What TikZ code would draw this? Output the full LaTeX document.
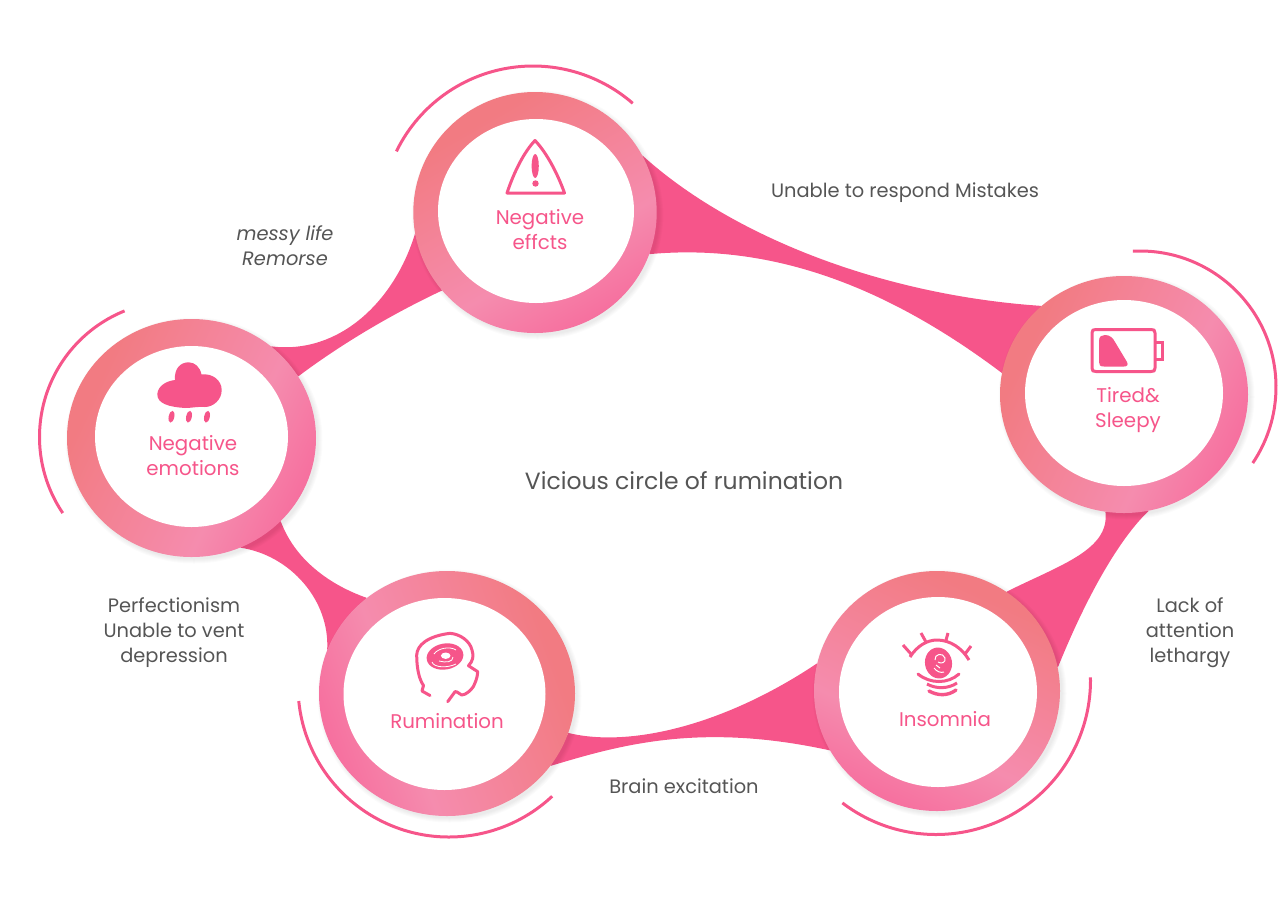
\documentclass[tikz,border=0pt]{standalone}
\usepackage{fontspec}
\setmainfont{Poppins}
\usetikzlibrary{shapes.geometric,backgrounds}
\definecolor{ribbon}{HTML}{F6558A}
\definecolor{salmon}{HTML}{F27B82}
\definecolor{midpink}{HTML}{F58CAE}
\definecolor{deeppink}{HTML}{F6709F}
\definecolor{inkgrey}{HTML}{555555}
\pgfdeclareverticalshading{ringshade}{100bp}{color(0bp)=(deeppink); color(25bp)=(deeppink); color(40bp)=(midpink); color(72bp)=(salmon); color(100bp)=(salmon)}
\tikzset{
  ringbody/.style={ellipse,inner sep=0pt,shade,shading=ringshade},
  ringhole/.style={ellipse,inner sep=0pt,fill=white},
  ribbonfill/.style={fill=ribbon,draw=none},
  halo/.style={draw=ribbon,line width=3pt,line cap=butt},
  iconline/.style={draw=ribbon,line width=3pt,line cap=round,line join=round},
  iconfill/.style={fill=ribbon,draw=none},
  pinktext/.style={text=ribbon,align=center,font=\fontsize{19.8}{25}\selectfont},
  greytext/.style={text=inkgrey,align=center,font=\fontsize{19.4}{25}\selectfont},
}
\newcommand{\ringat}[6]{%
  \foreach \g in {0,1,2,3,4}{\fill[black,opacity=.016] (#2+2.5,#3+2.5) ellipse [x radius=#4+\g,y radius=#5+\g];}
  \node[ringbody,minimum width={2*#4 pt},minimum height={2*#5 pt},shading angle=#6] (#1) at (#2,#3) {};}
\newcommand{\holeat}[5]{\node[ringhole,minimum width={2*#4 pt},minimum height={2*#5 pt}] (#1) at (#2,#3) {};}
\newcommand{\haloarc}[5]{\draw[halo] ([shift={(#4:#3pt)}]#1,#2) arc[start angle=#4,end angle=#5,radius=#3pt];}
\begin{document}
\begin{tikzpicture}[x=1pt,y=-1pt]
\useasboundingbox (0,0) rectangle (1286,898);
% rings
\ringat{effects}{535}{212.5}{121.7}{120.5}{30}
\holeat{effectsin}{536}{211}{98}{92}
\ringat{tired}{1124}{394.5}{124}{118.5}{65}
\holeat{tiredin}{1124}{393}{99}{93}
\ringat{insomnia}{937}{691}{123}{120}{-25}
\holeat{insomniain}{938}{692}{99}{95}
\ringat{rumination}{447}{693.5}{128}{122.5}{-70}
\holeat{ruminationin}{444.5}{694}{101}{96}
\ringat{emotions}{191.5}{438}{124.5}{119}{65}
\holeat{emotionsin}{191.5}{436.5}{96.5}{90.5}
% ribbons
\begin{pgfonlayer}{background}
\fill[ribbonfill] (effects.28.7) .. controls (730,235) and (880,295) .. (tired.133.7) -- (tired.170) .. controls (885,285) and (770,243) .. (effects.-20.8) -- cycle;
\fill[ribbonfill] (tired.261.8) .. controls (1110,550) and (1060,565) .. (insomnia.55.8) -- (insomnia.11) .. controls (1085,600) and (1118,540) .. (tired.282.7) -- cycle;
\fill[ribbonfill] (insomnia.167.7) .. controls (725,725) and (630,748) .. (rumination.-18) -- (rumination.-35.5) .. controls (620,745) and (700,722) .. (insomnia.209) -- cycle;
\fill[ribbonfill] (emotions.-43.8) .. controls (295,560) and (330,585) .. (rumination.130.6) -- (rumination.160) .. controls (330,600) and (290,555) .. (emotions.-66.6) -- cycle;
\fill[ribbonfill] (emotions.49.5) .. controls (340,355) and (395,300) .. (effects.190.8) -- (effects.220.7) .. controls (390,315) and (340,345) .. (emotions.30.6) -- cycle;
\end{pgfonlayer}
% outer arcs
\haloarc{533}{218}{152}{154}{49}
\haloarc{1140}{387}{136}{93}{-34}
\haloarc{936}{680}{154.5}{1}{-127.3}
\haloarc{449}{686}{151}{185.7}{313.1}
\haloarc{175.5}{437}{136}{112}{214}
% warning icon
\draw[iconline] (507,193) .. controls (514,172) and (524,152) .. (535,140.5) .. controls (546,152) and (557,172) .. (564.5,193) -- cycle;
\fill[iconfill] (535.2,166) ellipse [x radius=3.6,y radius=12];
\fill[iconfill] (535.5,183.5) circle [radius=3.2];
% battery icon
\draw[iconline] (1092,333) .. controls (1092,330) and (1093,329.5) .. (1096,329.5) -- (1151,329.5) .. controls (1154,329.5) and (1155,330) .. (1155,333) -- (1155,368) .. controls (1155,371) and (1154,371.5) .. (1151,371.5) -- (1096,371.5) .. controls (1093,371.5) and (1092,371) .. (1092,368) -- cycle;
\draw[draw=ribbon,line width=2.6pt] (1155,342.5) -- (1162.5,342.5) -- (1162.5,359.5) -- (1155,359.5);
\fill[iconfill] (1099,341) .. controls (1099,336) and (1102,335) .. (1105,335) .. controls (1110,335) and (1113,338) .. (1115,342) -- (1127,362) .. controls (1128.5,365) and (1127,366.5) .. (1124,366.5) -- (1104,366.5) .. controls (1100,366.5) and (1099,365) .. (1099,362) -- cycle;
% eye icon
\draw[iconline,line cap=butt] (910,657) .. controls (917,646) and (927,640) .. (937,640) .. controls (950,640) and (962,648) .. (969,660);
\draw[iconline,line cap=butt] (903,645) -- (911,654);
\draw[iconline,line cap=butt] (921,633) -- (926,642);
\draw[iconline,line cap=butt] (948,633) -- (945.5,642);
\draw[iconline,line cap=butt] (971,646) -- (965,654);
\fill[iconfill,rotate around={10:(938.5,663)}] (938.5,663) ellipse [x radius=13.5,y radius=15.5];
\draw[white,line width=1pt] (935,660) .. controls (934,654) and (943,652) .. (945,658) .. controls (946,663) and (941,664) .. (938,662);
\draw[white,line width=1pt] (934,668) .. controls (937,672) and (941,673) .. (944,672);
\draw[white,line width=1pt] (936,665) -- (940,668);
\draw[iconline] (918,674) .. controls (930,684) and (948,684) .. (959,674);
\draw[iconline,line cap=butt] (927,684) .. controls (936,689) and (948,689) .. (957,683);
\draw[iconline,line width=3.4pt] (929,691) .. controls (938,696) and (948,696) .. (956,690);
% head icon
\draw[iconline] (430,695.5) -- (422,691) -- (423.5,685.5) .. controls (419,679) and (416.7,668) .. (416.7,655) .. controls (417,645) and (428,636) .. (450,633.3) .. controls (460,634) and (470,641) .. (472,650) .. controls (474,656) and (473,661) .. (468.5,665.7) -- (477.7,671.7) .. controls (477.5,678) and (475,683) .. (473.3,686.7) .. controls (471,690) and (466,695) .. (461.7,695) .. controls (459,694) and (457,691) .. (455,691.7) -- (447.7,701.7);
\fill[iconfill,rotate around={10:(445,656.5)}] (445,656.5) ellipse [x radius=18.5,y radius=13];
\draw[white,line width=.8pt] (432,662) .. controls (434,668) and (448,668) .. (456,664);
\draw[white,line width=.8pt] (434,654) .. controls (438,648) and (450,646) .. (456,650);
\draw[white,line width=.8pt] (453,657) .. controls (453,662) and (446,663) .. (439,661);
\fill[white] (445.7,655.7) ellipse [x radius=4.8,y radius=3.2];
% cloud icon
\fill[iconfill] (157.3,394) .. controls (158,386) and (166,381) .. (175,380) .. controls (174,368) and (181,362.3) .. (188.5,362.3) .. controls (195,362.3) and (200,367) .. (201.5,374.5) .. controls (212,373) and (221.7,380) .. (221.7,390) .. controls (221.7,400) and (213,407) .. (205,407) .. controls (196,406.5) and (192,408) .. (185,408) .. controls (170,407) and (157,404) .. (157.3,394) -- cycle;
\foreach \dx in {171.5,189,207}{\fill[iconfill,rotate around={-12:(\dx,416.7)}] (\dx,416.7) ellipse [x radius=2.8,y radius=6];}
% node labels
\node[pinktext] (effectslabel) at (540,230) {Negative\\effcts};
\node[pinktext] (tiredlabel) at (1128,410) {Tired\&\\Sleepy};
\node[pinktext] (insomnialabel) at (945,719) {Insomnia};
\node[pinktext] (ruminationlabel) at (447,721) {Rumination};
\node[pinktext] (emotionslabel) at (193,456) {Negative\\emotions};
% connector labels
\node[greytext] (t1) at (905,192.5) {Unable to respond Mistakes};
\node[greytext,font=\fontsize{19.4}{25}\selectfont\itshape] (t2) at (285,246) {messy life\\Remorse};
\node[greytext] (t3) at (174,633) {Perfectionism\\Unable to vent\\depression};
\node[greytext] (t4) at (684,786.5) {Brain excitation};
\node[greytext] (t5) at (1190,632.5) {Lack of\\attention\\lethargy};
\node[text=inkgrey,font=\fontsize{23.5}{28}\selectfont] (title) at (684,481) {Vicious circle of rumination};
\end{tikzpicture}
\end{document}
